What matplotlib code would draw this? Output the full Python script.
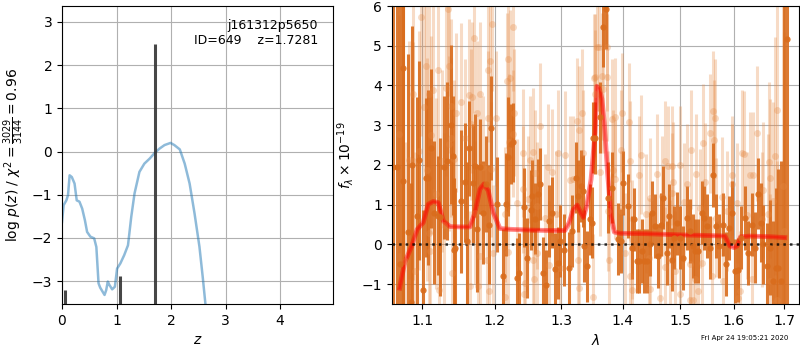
import matplotlib
matplotlib.use('Agg')
import matplotlib.pyplot as plt
from matplotlib.ticker import NullLocator, FixedLocator, FixedFormatter

# left panel: log p(z)
pz_z = [0.00, 0.03, 0.08, 0.11, 0.14, 0.18, 0.23, 0.27, 0.32, 0.37,
        0.42, 0.46, 0.52, 0.59, 0.63, 0.67, 0.70, 0.78, 0.81, 0.84,
        0.87, 0.92, 0.97, 1.01, 1.07, 1.14, 1.21, 1.27, 1.33, 1.42,
        1.51, 1.61, 1.70, 1.79, 1.88, 1.99, 2.06, 2.16, 2.25, 2.34,
        2.43, 2.52, 2.58, 2.63, 2.70]
pz_logp = [-1.63, -1.24, -1.13, -1.01, -0.55, -0.59, -0.74, -1.13, -1.16, -1.32,
           -1.59, -1.86, -1.97, -2.01, -2.21, -3.05, -3.15, -3.32, -3.21, -3.01,
           -3.09, -3.19, -3.13, -2.71, -2.59, -2.40, -2.17, -1.51, -0.97, -0.47,
           -0.28, -0.16, -0.03, 0.07, 0.15, 0.20, 0.15, 0.05, -0.28, -0.74,
           -1.43, -2.20, -2.90, -3.53, -4.20]
bar_z = [0.05, 1.07, 1.71]
bar_top = [-3.21, -2.88, 2.50]

# right panel: spectrum (flux x 1e-19)
dark_wave = [1.0615, 1.0667, 1.0709, 1.0748, 1.0754, 1.0813, 1.0848, 1.0871, 1.0926, 1.0960,
             1.1013, 1.1045, 1.1079, 1.1111, 1.1159, 1.1204, 1.1237, 1.1292, 1.1328, 1.1387,
             1.1410, 1.1424, 1.1442, 1.1524, 1.1580, 1.1612, 1.1640, 1.1687, 1.1719, 1.1752,
             1.1790, 1.1837, 1.1876, 1.1919, 1.1948, 1.2029, 1.2116, 1.2165, 1.2199, 1.2234,
             1.2273, 1.2322, 1.2361, 1.2435, 1.2480, 1.2531, 1.2555, 1.2596, 1.2646, 1.2672,
             1.2723, 1.2764, 1.2815, 1.2852, 1.2903, 1.2945, 1.2980, 1.3043, 1.3122, 1.3164,
             1.3233, 1.3269, 1.3308, 1.3340, 1.3366, 1.3414, 1.3457, 1.3485, 1.3512, 1.3539,
             1.3620, 1.3675, 1.3719, 1.3757, 1.3823, 1.3924, 1.3964, 1.4007, 1.4092, 1.4150,
             1.4194, 1.4236, 1.4280, 1.4322, 1.4367, 1.4418, 1.4464, 1.4494, 1.4552, 1.4610,
             1.4657, 1.4698, 1.4758, 1.4805, 1.4847, 1.4894, 1.4948, 1.4995, 1.5055, 1.5117,
             1.5177, 1.5238, 1.5269, 1.5330, 1.5393, 1.5442, 1.5487, 1.5546, 1.5609, 1.5659,
             1.5721, 1.5797, 1.5849, 1.5911, 1.5957, 1.6020, 1.6084, 1.6136, 1.6213, 1.6277,
             1.6344, 1.6409, 1.6462, 1.6528, 1.6574, 1.6642, 1.6708, 1.6763, 1.6830, 1.6877,
             1.6926, 1.6994, 1.7050]
dark_flux = [1.94, 1.96, -0.50, 4.44, 1.60, 0.30, -1.46, 2.00, 0.72, 2.12,
             -1.14, 1.68, 1.68, 2.42, 0.80, 0.72, 0.69, 1.94, 2.10, 3.01,
             2.23, -0.13, -0.08, 1.09, 1.56, 0.08, 2.42, 1.54, 1.98, 0.40,
             1.96, 0.80, 1.52, 0.50, 2.93, 1.01, -0.80, 1.01, 2.21, 2.53,
             2.57, -0.84, -0.72, 0.93, -0.34, 0.87, 1.22, 0.65, 1.26, 1.52,
             -0.72, -1.03, 0.59, 0.80, -0.61, -0.47, 0.08, -0.14, -0.59, 0.34,
             1.68, 1.22, 1.47, 1.35, -0.04, -0.55, 0.63, 0.55, 2.69, 2.68,
             3.20, 5.47, 5.93, 1.18, 1.43, 0.13, 0.08, 1.54, 0.97, -0.08,
             0.63, -0.42, -0.42, -0.17, -0.42, -0.42, 0.00, 0.80, 0.46, -0.29,
             0.50, 1.18, -0.21, 0.72, -0.38, 0.17, 0.53, 0.17, -0.34, 0.67,
             0.34, -0.04, -0.17, -0.17, 0.80, 0.67, 0.46, -0.08, 1.75, 0.46,
             -0.04, 0.50, -0.50, 0.42, 0.80, -0.67, -0.65, 0.17, 0.67, -0.21,
             0.50, -0.08, 1.28, 0.55, 0.00, -0.55, -0.08, -0.91, -0.59, -0.59,
             -0.91, -2.00, 5.18]
dark_err = [8.0, 8.0, 7.0, 6.0, 6.0, 4.5, 3.0, 3.5, 3.0, 2.5,
            2.0, 2.0, 2.2, 2.0, 1.8, 1.5, 2.0, 1.8, 2.0, 2.0,
            1.5, 1.8, 1.5, 1.8, 1.5, 2.0, 1.2, 1.5, 1.3, 1.6,
            1.2, 1.3, 1.2, 1.5, 1.3, 1.2, 1.2, 1.3, 1.5, 1.0,
            1.0, 1.0, 1.0, 1.0, 1.0, 1.0, 0.9, 0.9, 0.9, 0.9,
            0.9, 0.9, 0.9, 0.9, 0.9, 0.9, 0.9, 0.9, 0.9, 0.9,
            0.9, 0.9, 0.9, 0.9, 0.9, 0.9, 0.9, 0.9, 0.9, 0.9,
            0.9, 1.0, 1.0, 0.9, 0.9, 0.9, 0.8, 0.8, 0.8, 0.8,
            0.8, 0.8, 0.8, 0.8, 0.8, 0.8, 0.8, 0.8, 0.8, 0.8,
            0.8, 0.8, 0.8, 0.8, 0.8, 0.8, 0.8, 0.8, 0.8, 0.8,
            0.8, 0.8, 0.8, 0.8, 0.8, 0.8, 0.8, 0.8, 0.8, 0.8,
            0.8, 0.8, 0.8, 0.8, 0.8, 0.8, 0.8, 0.8, 0.8, 0.8,
            0.8, 0.9, 0.9, 1.0, 1.0, 1.1, 1.2, 1.5, 2.0, 2.5,
            3.0, 9.0, 10.0]

light_wave = [1.0696, 1.0774, 1.0826, 1.0874, 1.0882, 1.0904, 1.0961, 1.0983, 1.1026, 1.1049,
              1.1058, 1.1088, 1.1092, 1.1102, 1.1115, 1.1146, 1.1178, 1.1213, 1.1223, 1.1269,
              1.1290, 1.1323, 1.1345, 1.1355, 1.1363, 1.1383, 1.1393, 1.1404, 1.1431, 1.1450,
              1.1520, 1.1579, 1.1611, 1.1639, 1.1649, 1.1659, 1.1677, 1.1706, 1.1719, 1.1743,
              1.1765, 1.1790, 1.1797, 1.1837, 1.1894, 1.1900, 1.1908, 1.1923, 1.1933, 1.1947,
              1.1957, 1.1981, 1.2020, 1.2150, 1.2157, 1.2175, 1.2189, 1.2198, 1.2208, 1.2223,
              1.2263, 1.2272, 1.2286, 1.2322, 1.2411, 1.2420, 1.2428, 1.2446, 1.2486, 1.2521,
              1.2562, 1.2571, 1.2582, 1.2596, 1.2622, 1.2631, 1.2672, 1.2749, 1.2800, 1.2815,
              1.2852, 1.2918, 1.2945, 1.2980, 1.3059, 1.3137, 1.3180, 1.3253, 1.3269, 1.3277,
              1.3285, 1.3323, 1.3340, 1.3512, 1.3522, 1.3539, 1.3547, 1.3566, 1.3609, 1.3620,
              1.3648, 1.3675, 1.3730, 1.3739, 1.3757, 1.3765, 1.3813, 1.3840, 1.3868, 1.3877,
              1.3969, 1.3977, 1.3991, 1.4035, 1.4108, 1.4120, 1.4129, 1.4149, 1.4158, 1.4279,
              1.4308, 1.4394, 1.4452, 1.4464, 1.4473, 1.4581, 1.4639, 1.4669, 1.4728, 1.4737,
              1.4786, 1.4816, 1.4846, 1.4855, 1.4875, 1.4905, 1.4995, 1.5004, 1.5073, 1.5117,
              1.5177, 1.5186, 1.5199, 1.5238, 1.5269, 1.5287, 1.5330, 1.5360, 1.5392, 1.5422,
              1.5453, 1.5546, 1.5578, 1.5608, 1.5627, 1.5640, 1.5659, 1.5766, 1.5797, 1.5861,
              1.5957, 1.5966, 1.6053, 1.6084, 1.6116, 1.6149, 1.6200, 1.6247, 1.6311, 1.6344,
              1.6376, 1.6443, 1.6542, 1.6562, 1.6674, 1.6694, 1.6704, 1.6714, 1.6775, 1.6809,
              1.6844, 1.6856, 1.6978, 1.6988]
light_flux = [2.78, -0.42, 2.13, 2.10, 3.79, -0.67, 2.36, 5.72, 3.45, 4.49,
              1.88, 0.29, 3.79, -0.17, 2.75, 3.89, 1.28, 4.38, -1.14, 2.10,
              0.50, 3.93, 5.93, 4.49, 2.53, 3.48, 2.69, -0.72, 2.15, 3.31,
              3.58, 2.67, 0.07, 3.77, -1.05, 3.03, 3.70, 5.20, 0.80, 3.31,
              -1.05, 3.79, -0.29, 1.94, -0.40, 4.39, 3.17, -1.18, 4.61, 1.89,
              5.56, -0.21, 3.17, 0.76, -1.32, 4.12, -0.19, 4.67, 2.59, 4.19,
              2.79, 5.47, 3.32, 1.05, 1.39, 2.30, -1.26, -0.97, 1.14, 2.13,
              -0.38, 2.33, -0.88, 1.79, 0.97, -0.21, 2.97, 0.67, 1.94, -0.51,
              1.81, 0.76, 2.29, -0.59, 2.26, 1.62, 1.64, 3.10, -0.38, -1.09,
              2.88, 3.32, 2.29, -1.33, 4.19, 4.21, 3.79, 4.97, 4.97, 1.81,
              4.23, 3.91, 4.97, 4.21, 0.84, -0.38, 3.16, 1.88, 3.20, 1.64,
              2.38, 0.84, 3.32, -0.21, 3.07, 2.10, -0.80, 0.13, -1.14, 1.74,
              2.26, 0.77, -0.34, 1.18, -1.11, 1.77, -1.36, 1.22, 2.10, -0.57,
              1.98, -0.38, 1.98, 1.30, 1.57, -0.67, 1.99, -1.24, 1.06, 1.52,
              -1.39, -0.50, 2.38, -1.39, -0.88, 1.77, -1.16, 0.91, -0.46, 2.54,
              1.56, 2.80, -0.80, 3.37, 2.63, 3.17, 0.67, 1.20, -0.93, 0.84,
              1.74, 1.52, 1.04, -1.35, -1.16, 2.29, 2.27, 0.73, 1.74, -0.88,
              1.74, 2.80, 0.63, 1.37, 0.77, 2.08, 1.67, -0.93, 1.09, 2.23,
              -1.39, 3.38, 1.46, 0.34]
light_err = [3.0, 3.0, 3.0, 3.0, 3.0, 3.0, 3.0, 3.0, 2.8, 2.8,
             2.8, 2.5, 2.5, 2.5, 2.5, 2.5, 2.4, 2.4, 2.4, 2.3,
             2.3, 2.2, 2.2, 2.2, 2.2, 2.2, 2.0, 2.0, 2.0, 2.0,
             2.0, 2.0, 2.0, 1.9, 1.9, 1.9, 1.9, 1.9, 1.8, 1.8,
             1.8, 1.8, 1.8, 1.8, 1.8, 1.8, 1.7, 1.7, 1.7, 1.7,
             1.7, 1.7, 1.7, 1.7, 1.7, 1.7, 1.7, 1.7, 1.7, 1.7,
             1.6, 1.6, 1.6, 1.6, 1.6, 1.6, 1.6, 1.6, 1.6, 1.6,
             1.6, 1.6, 1.6, 1.6, 1.6, 1.6, 1.6, 1.6, 1.6, 1.6,
             1.6, 1.6, 1.6, 1.6, 1.6, 1.6, 1.6, 1.6, 1.6, 1.6,
             1.6, 1.6, 1.6, 1.6, 1.6, 1.6, 1.6, 1.6, 1.6, 1.6,
             1.6, 1.6, 1.6, 1.6, 1.5, 1.5, 1.5, 1.5, 1.5, 1.5,
             1.5, 1.5, 1.5, 1.5, 1.5, 1.5, 1.5, 1.5, 1.5, 1.5,
             1.5, 1.5, 1.5, 1.5, 1.5, 1.5, 1.5, 1.5, 1.5, 1.5,
             1.5, 1.5, 1.5, 1.5, 1.5, 1.5, 1.5, 1.5, 1.5, 1.5,
             1.5, 1.5, 1.5, 1.5, 1.5, 1.5, 1.5, 1.5, 1.5, 1.5,
             1.5, 1.5, 1.5, 1.5, 1.5, 1.5, 1.5, 1.5, 1.5, 1.5,
             1.5, 1.5, 1.5, 1.5, 1.5, 1.6, 1.6, 1.6, 1.6, 1.6,
             1.6, 1.7, 1.7, 1.7, 2.0, 2.0, 2.0, 2.2, 2.5, 3.0,
             3.5, 4.0, 5.0, 5.0]

model_wave = [1.0705, 1.0717, 1.0770, 1.0861, 1.0934, 1.1013, 1.1079, 1.1146, 1.1214, 1.1282,
              1.1373, 1.1510, 1.1649, 1.1719, 1.1790, 1.1847, 1.1909, 1.1981, 1.2077, 1.2223,
              1.2521, 1.2825, 1.3058, 1.3126, 1.3190, 1.3254, 1.3309, 1.3351, 1.3406, 1.3476,
              1.3542, 1.3570, 1.3613, 1.3653, 1.3691, 1.3746, 1.3803, 1.3858, 1.3952, 1.4407,
              1.4995, 1.5608, 1.5829, 1.5924, 1.6000, 1.6064, 1.6129, 1.6311, 1.6774, 1.7011]
model_flux = [-1.10, -0.97, -0.46, -0.04, 0.38, 0.55, 1.01, 1.08, 1.05, 0.59,
              0.45, 0.44, 0.44, 0.80, 1.39, 1.52, 1.35, 0.80, 0.40, 0.38,
              0.36, 0.35, 0.35, 0.55, 0.88, 0.99, 0.80, 0.68, 0.97, 1.64,
              2.82, 3.98, 3.91, 3.66, 3.07, 1.81, 0.72, 0.31, 0.28, 0.27,
              0.24, 0.22, 0.21, -0.04, -0.08, -0.04, 0.19, 0.21, 0.19, 0.17]

wave_ticks = [1.1, 1.2, 1.3, 1.4, 1.5, 1.6, 1.7]

fig = plt.figure(figsize=(8, 3.5), dpi=100)

# --- p(z) panel
ax1 = fig.add_axes([0.0775, 0.1314, 0.3388, 0.8514])
ax1.plot(pz_z, pz_logp, color='#1f77b4', alpha=0.5, lw=1.8)
ax1.vlines(bar_z, -4, bar_top, color='0.2', alpha=0.9, lw=2.2)
ax1.set_xlim(0, 4.97)
ax1.set_ylim(-3.53, 3.37)
ax1.grid()
ax1.set_xlabel(r'$z$')
ax1.set_ylabel(r'log $p(z)$ / $\chi^2=\frac{3029}{3144}=0.96$')
ax1.text(0.945, 0.955, 'j161312p5650\nID=649    z=1.7281', ha='right', va='top',
         fontsize=9, transform=ax1.transAxes)

# --- spectrum panel
ax2 = fig.add_axes([0.4896, 0.1314, 0.5095, 0.8514])
ax2.errorbar(light_wave, light_flux, yerr=light_err, marker='o', ms=5, linestyle='none',
             color='#e68a45', alpha=0.3, elinewidth=2.2, mew=0)
ax2.errorbar(dark_wave, dark_flux, yerr=dark_err, marker='o', ms=4.5, linestyle='none',
             color='#d96c1c', alpha=0.9, elinewidth=2.2, mew=0)
ax2.plot(model_wave, model_flux, color='red', alpha=0.45, lw=3.5)
ax2.plot(model_wave, model_flux, color='red', alpha=0.4, lw=1.5)
ax2.axhline(0, color='k', linestyle=':', lw=1.8, alpha=0.8)
ax2.set_xscale('log')
ax2.xaxis.set_major_locator(FixedLocator(wave_ticks))
ax2.xaxis.set_major_formatter(FixedFormatter([str(w) for w in wave_ticks]))
ax2.xaxis.set_minor_locator(NullLocator())
ax2.set_xlim(1.0603, 1.731)
ax2.set_ylim(-1.5, 6)
ax2.grid()
ax2.set_xlabel(r'$\lambda$')
ax2.set_ylabel(r'$f_\lambda\times10^{-19}$')

fig.text(0.985, 0.025, 'Fri Apr 24 19:05:21 2020', ha='right', va='bottom', fontsize=5)

fig.savefig('out.png', dpi=100)
